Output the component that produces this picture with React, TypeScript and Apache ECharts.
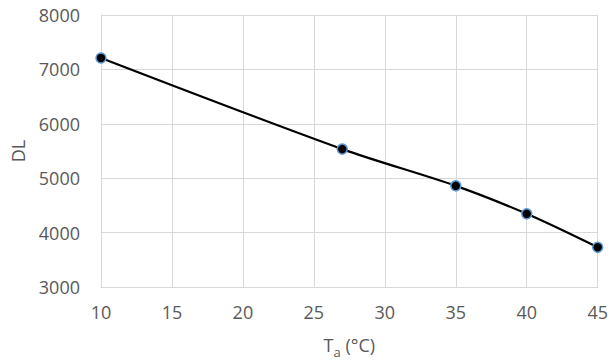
import React, { useEffect, useRef } from "react";
import * as echarts from "echarts";

const temperatures = [10, 27, 35, 40, 45];
const dlValues = [7210, 5535, 4860, 4345, 3730];
const xTicks = { min: 10, max: 45, interval: 5 };
const yTicks = { min: 3000, max: 8000, interval: 1000 };

export default function App() {
  const ref = useRef<HTMLDivElement>(null);
  useEffect(() => {
    if (!ref.current) return;
    document.body.style.margin = "0";
    document.body.style.overflow = "hidden";
    const chart = echarts.init(ref.current, null, { renderer: "svg" });
    const font = "'Open Sans', 'Noto Sans', sans-serif";
    chart.setOption({
      animation: false,
      backgroundColor: "#ffffff",
      grid: { left: 101, right: 12, top: 15, bottom: 77, containLabel: false },
      xAxis: {
        type: "value",
        min: xTicks.min,
        max: xTicks.max,
        interval: xTicks.interval,
        name: "{t|T}{s|a}{t| (°C)}",
        nameLocation: "middle",
        nameGap: 49,
        nameTextStyle: {
          rich: {
            t: { fontSize: 18, color: "#595959", fontFamily: font, verticalAlign: "top", lineHeight: 22 },
            s: { fontSize: 13, color: "#595959", fontFamily: font, verticalAlign: "top", lineHeight: 16, padding: [9, 0, 0, 0] },
          },
        },
        axisLine: { show: true, lineStyle: { color: "#d9d9d9", width: 1 } },
        axisTick: { show: false },
        axisLabel: { fontSize: 18, color: "#595959", fontFamily: font, margin: 16, formatter: (v: number) => String(v) },
        splitLine: { show: true, lineStyle: { color: "#d9d9d9", width: 1 } },
      },
      yAxis: {
        type: "value",
        min: yTicks.min,
        max: yTicks.max,
        interval: yTicks.interval,
        name: "DL",
        nameLocation: "middle",
        nameGap: 74,
        nameTextStyle: { fontSize: 18, color: "#595959", fontFamily: font },
        axisLine: { show: true, lineStyle: { color: "#d9d9d9", width: 1 } },
        axisTick: { show: false },
        axisLabel: { fontSize: 18, color: "#595959", fontFamily: font, margin: 21, formatter: (v: number) => String(v) },
        splitLine: { show: true, lineStyle: { color: "#d9d9d9", width: 1 } },
      },
      series: [
        {
          type: "line",
          data: temperatures.map((t, i) => [t, dlValues[i]]),
          smooth: 0.3,
          symbol: "circle",
          symbolSize: 10,
          lineStyle: { color: "#000000", width: 2.25 },
          itemStyle: { color: "#000000", borderColor: "#5b9bd5", borderWidth: 1.5 },
          z: 3,
        },
      ],
    });
    return () => chart.dispose();
  }, []);
  return <div ref={ref} style={{ position: "absolute", left: 0, top: 0, width: 611, height: 364 }} />;
}
